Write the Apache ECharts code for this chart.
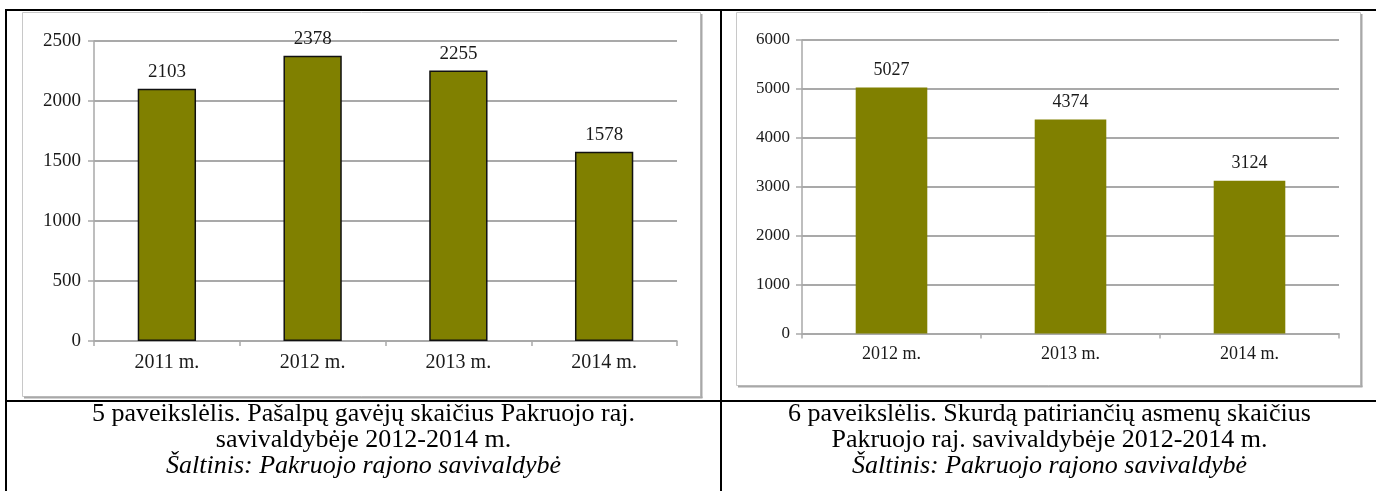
<!DOCTYPE html>
<html>
<head>
<meta charset="utf-8">
<script src="https://cdn.jsdelivr.net/npm/echarts@6/dist/echarts.min.js"></script>
<style>
html,body{margin:0;padding:0;background:#fff;}
#c{width:1376px;height:491px;}
</style>
</head>
<body>
<div id="c"></div>
<script>
const cats1 = ['2011 m.', '2012 m.', '2013 m.', '2014 m.'];
const vals1 = [2103, 2378, 2255, 1578];
const yTicks1 = { min: 0, max: 2500, interval: 500 };

const cats2 = ['2012 m.', '2013 m.', '2014 m.'];
const vals2 = [5027, 4374, 3124];
const yTicks2 = { min: 0, max: 6000, interval: 1000 };

const caption1 = ['5 paveikslėlis. Pašalpų gavėjų skaičius Pakruojo raj.', 'savivaldybėje 2012-2014 m.', 'Šaltinis: Pakruojo rajono savivaldybė'];
const caption2 = ['6 paveikslėlis. Skurdą patiriančių asmenų skaičius', 'Pakruojo raj. savivaldybėje 2012-2014 m.', 'Šaltinis: Pakruojo rajono savivaldybė'];

const SERIF = 'Liberation Serif';
const OLIVE = '#808000';
const GRID = '#a9a9a9';
const TXT = '#1a1a1a';

function yAxis(t, gi, fs, margin) {
  return {
    type: 'value', gridIndex: gi, min: t.min, max: t.max, interval: t.interval,
    axisLine: { show: true, lineStyle: { color: GRID, width: 1.5 } },
    axisTick: { show: true, length: 6, lineStyle: { color: GRID, width: 1.5 } },
    axisLabel: { color: TXT, fontFamily: SERIF, fontSize: fs, margin: margin, formatter: v => String(v) },
    splitLine: { show: true, lineStyle: { color: GRID, width: 2 } }
  };
}
function xAxis(cats, gi, fs, margin) {
  return {
    type: 'category', gridIndex: gi, data: cats,
    axisLine: { show: true, lineStyle: { color: GRID, width: 1.5 } },
    axisTick: { show: true, length: 5, lineStyle: { color: GRID, width: 1.5 } },
    axisLabel: { color: TXT, fontFamily: SERIF, fontSize: fs, margin: margin }
  };
}

const cellL = { x1: 6, x2: 721 };
const cellR = { x1: 721, x2: 1378 };
const capY = [414, 440, 466];

function captionEls(lines, cell) {
  const cx = (cell.x1 + cell.x2) / 2;
  return lines.map((s, i) => ({
    type: 'text', x: cx, y: capY[i], z: 10,
    style: {
      text: s, x: 0, y: 0, align: 'center', verticalAlign: 'middle',
      fontFamily: SERIF, fontSize: 26, fontStyle: i === 2 ? 'italic' : 'normal', fill: '#000'
    }
  }));
}

function frameEls(x, y, w, h) {
  return [
    { type: 'rect', z: -5, shape: { x: x + 0.5, y: y + 0.5, width: w, height: h }, style: { fill: '#fff', stroke: '#c8c8c8', lineWidth: 1 } },
    { type: 'line', z: -4, shape: { x1: x + w + 1.5, y1: y + 2, x2: x + w + 1.5, y2: y + h + 2 }, style: { stroke: '#a8a8a8', lineWidth: 2 } },
    { type: 'line', z: -4, shape: { x1: x + 2, y1: y + h + 1.5, x2: x + w + 2.5, y2: y + h + 1.5 }, style: { stroke: '#a8a8a8', lineWidth: 2 } }
  ];
}

const borders = [
  { type: 'line', z: 20, shape: { x1: 5, y1: 10, x2: 1376, y2: 10 }, style: { stroke: '#000', lineWidth: 2 } },
  { type: 'line', z: 20, shape: { x1: 6, y1: 9, x2: 6, y2: 491 }, style: { stroke: '#000', lineWidth: 2 } },
  { type: 'line', z: 20, shape: { x1: 721, y1: 9, x2: 721, y2: 491 }, style: { stroke: '#000', lineWidth: 2 } },
  { type: 'line', z: 20, shape: { x1: 5, y1: 401, x2: 1376, y2: 401 }, style: { stroke: '#000', lineWidth: 2 } }
];

const chart = echarts.init(document.getElementById('c'), null, { renderer: 'canvas' });
chart.setOption({
  animation: false,
  backgroundColor: '#fff',
  grid: [
    { left: 94, top: 41, width: 583, height: 300 },
    { left: 802, top: 40, width: 537, height: 293.5 }
  ],
  xAxis: [xAxis(cats1, 0, 20, 12), xAxis(cats2, 1, 18, 12)],
  yAxis: [yAxis(yTicks1, 0, 19, 13), yAxis(yTicks2, 1, 17, 12)],
  series: [
    {
      type: 'bar', xAxisIndex: 0, yAxisIndex: 0, data: vals1, barWidth: '40%',
      itemStyle: { color: OLIVE, borderColor: '#111', borderWidth: 1.5 },
      label: { show: true, position: 'top', distance: 7, color: TXT, fontFamily: SERIF, fontSize: 19 }
    },
    {
      type: 'bar', xAxisIndex: 1, yAxisIndex: 1, data: vals2, barWidth: '40%',
      itemStyle: { color: OLIVE },
      label: { show: true, position: 'top', distance: 8, color: TXT, fontFamily: SERIF, fontSize: 18 }
    }
  ],
  graphic: [].concat(
    frameEls(22, 12, 678, 384),
    frameEls(736, 12, 624, 373),
    borders,
    captionEls(caption1, cellL),
    captionEls(caption2, cellR)
  )
});
</script>
</body>
</html>
